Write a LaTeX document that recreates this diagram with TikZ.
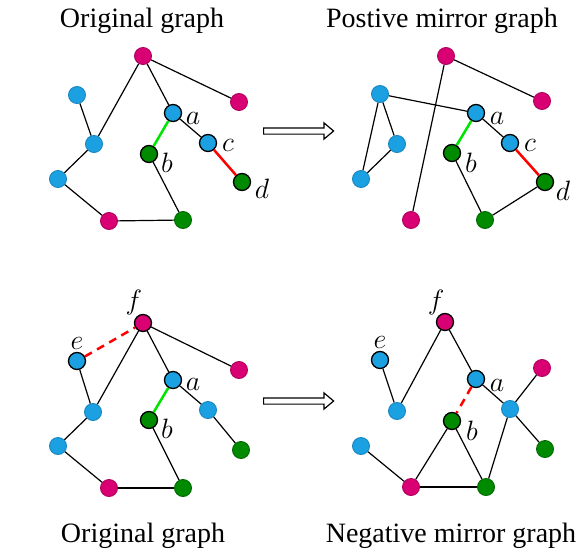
\RequirePackage{fix-cm}
\documentclass[tikz,border=0pt]{standalone}
\usepackage{fontspec}
\setmainfont{Liberation Serif}
\usetikzlibrary{shapes.arrows}
\definecolor{nblue}{HTML}{1BA1E2}
\definecolor{nblueb}{HTML}{1A86C0}
\definecolor{nmag}{HTML}{D80073}
\definecolor{nmagb}{HTML}{B0005E}
\definecolor{ngreen}{HTML}{008A00}
\definecolor{ngreenb}{HTML}{006A00}
\tikzset{
  vtx/.style={circle, minimum size=17pt, inner sep=0pt, line width=0.9pt},
  bn/.style={vtx, fill=nblue, draw=nblueb},
  mn/.style={vtx, fill=nmag, draw=nmagb},
  gn/.style={vtx, fill=ngreen, draw=ngreenb},
  hl/.style={draw=black, line width=1.3pt},
  edge/.style={line width=1.2pt, black},
  gedge/.style={line width=2.5pt, color=green!90!black},
  redge/.style={line width=2.5pt, red},
  dedge/.style={line width=2.5pt, red, dash pattern=on 8pt off 6pt},
  lbl/.style={font=\fontsize{28}{32}\selectfont, inner sep=0pt},
  ttl/.style={font=\fontsize{28}{32}\selectfont, inner sep=0pt, anchor=base},
  bigarrow/.style={single arrow, draw=black, line width=1.2pt, fill=white,
     minimum height=70pt, minimum width=15pt, inner sep=2.5pt,
     single arrow head extend=5pt, single arrow tip angle=80, anchor=west}
}
\begin{document}
\begin{tikzpicture}[x=1pt,y=-1pt]
\useasboundingbox (0,0) rectangle (581,549);
% titles
\node[ttl] (t1) at (142,27) {Original graph};
\node[ttl] (t2) at (442,27) {Postive mirror graph};
\node[ttl] (t3) at (143,542) {Original graph};
\node[ttl] (t4) at (451,542) {Negative mirror graph};
% arrows
\node[bigarrow] (ar1) at (263,131) {};
\node[bigarrow] (ar2) at (263,401) {};

% ---------- Q1 ----------
\node[mn] (T1) at (143,56) {};
\node[mn] (R1) at (239,102) {};
\node[bn] (BT1) at (77,95) {};
\node[bn] (BM1) at (94,144) {};
\node[bn] (BL1) at (58,179) {};
\node[mn] (MB1) at (109,221) {};
\node[gn] (GB1) at (183,220) {};
\node[bn,hl] (a1) at (173,113) {};
\node[gn,hl] (b1) at (149,154) {};
\node[bn,hl] (c1) at (208,143) {};
\node[gn,hl] (d1) at (242,182) {};
\node[lbl] (la1) at (193,118) {$a$};
\node[lbl] (lb1) at (167,163) {$b$};
\node[lbl] (lc1) at (228,145) {$c$};
\node[lbl] (ld1) at (262,189) {$d$};

% ---------- Q2 ----------
\node[mn] (T2) at (446,56) {};
\node[mn] (R2) at (542,101) {};
\node[bn] (BT2) at (380,94) {};
\node[bn] (BM2) at (397,144) {};
\node[bn] (BL2) at (361,179) {};
\node[mn] (MB2) at (411,220) {};
\node[gn] (GB2) at (485,220) {};
\node[bn,hl] (a2) at (476,113) {};
\node[gn,hl] (b2) at (452,153) {};
\node[bn,hl] (c2) at (510,143) {};
\node[gn,hl] (d2) at (545,182) {};
\node[lbl] (la2) at (497,118) {$a$};
\node[lbl] (lb2) at (471,163) {$b$};
\node[lbl] (lc2) at (530,145) {$c$};
\node[lbl] (ld2) at (563,191) {$d$};

% ---------- Q3 ----------
\node[mn,hl] (f3) at (143,323) {};
\node[bn,hl] (e3) at (77,361) {};
\node[mn] (R3) at (239,370) {};
\node[bn,hl] (a3) at (173,380) {};
\node[bn] (BM3) at (93,412) {};
\node[bn] (BR3) at (208,410) {};
\node[gn,hl] (b3) at (149,420) {};
\node[bn] (BL3) at (58,446) {};
\node[gn] (GR3) at (241,450) {};
\node[mn] (MB3) at (109,488) {};
\node[gn] (GB3) at (183,488) {};
\node[lbl] (lf3) at (134,302) {$f$};
\node[lbl] (le3) at (77,343) {$e$};
\node[lbl] (la3) at (193,384) {$a$};
\node[lbl] (lb3) at (167,429) {$b$};

% ---------- Q4 ----------
\node[mn,hl] (f4) at (445,322) {};
\node[bn,hl] (e4) at (380,360) {};
\node[bn,hl] (a4) at (476,379) {};
\node[mn] (R4) at (542,368) {};
\node[bn] (BM4) at (397,411) {};
\node[bn] (BR4) at (510,409) {};
\node[gn,hl] (b4) at (452,421) {};
\node[bn] (BL4) at (361,446) {};
\node[gn] (GR4) at (545,449) {};
\node[mn] (MB4) at (411,487) {};
\node[gn] (GB4) at (486,487) {};
\node[lbl] (lf4) at (436,302) {$f$};
\node[lbl] (le4) at (380,342) {$e$};
\node[lbl] (la4) at (497,385) {$a$};
\node[lbl] (lb4) at (472,431) {$b$};

% ---------- edges ----------
\draw[edge] (T1) -- (R1);
\draw[edge] (T1) -- (BM1);
\draw[edge] (T1) -- (a1);
\draw[edge] (BT1) -- (BM1);
\draw[edge] (BM1) -- (BL1);
\draw[edge] (BL1) -- (MB1);
\draw[edge] (MB1) -- (GB1);
\draw[edge] (GB1) -- (b1);
\draw[edge] (a1) -- (c1);
\draw[gedge] (a1) -- (b1);
\draw[redge] (c1) -- (d1);

\draw[edge] (T2) -- (R2);
\draw[edge] (T2) -- (MB2);
\draw[edge] (BT2) -- (a2);
\draw[edge] (BT2) -- (BM2);
\draw[edge] (BT2) -- (BL2);
\draw[edge] (BM2) -- (BL2);
\draw[edge] (a2) -- (c2);
\draw[edge] (d2) -- (GB2);
\draw[edge] (b2) -- (GB2);
\draw[gedge] (a2) -- (b2);
\draw[redge] (c2) -- (d2);

\draw[dedge] (e3) -- (f3);
\draw[edge] (f3) -- (R3);
\draw[edge] (f3) -- (BM3);
\draw[edge] (f3) -- (a3);
\draw[edge] (e3) -- (BM3);
\draw[edge] (BM3) -- (BL3);
\draw[edge] (BL3) -- (MB3);
\draw[edge] (MB3) -- (GB3);
\draw[edge] (GB3) -- (b3);
\draw[gedge] (a3) -- (b3);
\draw[edge] (a3) -- (BR3);
\draw[edge] (BR3) -- (GR3);

\draw[edge] (f4) -- (BM4);
\draw[edge] (e4) -- (BM4);
\draw[edge] (f4) -- (a4);
\draw[edge] (a4) -- (BR4);
\draw[edge] (BR4) -- (R4);
\draw[edge] (BR4) -- (GR4);
\draw[edge] (BR4) -- (GB4);
\draw[dedge] (a4) -- (b4);
\draw[edge] (b4) -- (MB4);
\draw[edge] (b4) -- (GB4);
\draw[edge] (BL4) -- (MB4);
\draw[edge] (MB4) -- (GB4);
\end{tikzpicture}
\end{document}
